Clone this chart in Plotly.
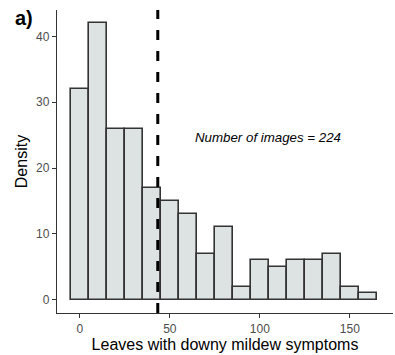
import plotly.graph_objects as go

bin_centers = [0, 10, 20, 30, 40, 50, 60, 70, 80, 90, 100, 110, 120, 130, 140, 150, 160]
counts = [32, 42, 26, 26, 17, 15, 13, 7, 11, 2, 6, 5, 6, 6, 7, 2, 1]
mean_value = 43.3
annotation_text = "Number of images = 224"
x_ticks = [0, 50, 100, 150]
y_ticks = [0, 10, 20, 30, 40]

fig = go.Figure()
fig.add_trace(go.Bar(
    x=bin_centers, y=counts, width=10,
    marker=dict(color="#dde3e3", line=dict(color="#333333", width=1.6)),
    showlegend=False,
))
fig.add_shape(type="line", x0=mean_value, x1=mean_value, y0=0, y1=1,
              xref="x", yref="paper",
              line=dict(color="black", width=3, dash="10px,11px"))
fig.add_annotation(x=104.5, y=24.7, text="<i>" + annotation_text + "</i>",
                   showarrow=False, font=dict(family="Liberation Sans, Arial", size=13.3, color="black"))
fig.add_annotation(x=-0.13, y=1.0, xref="paper", yref="paper", xanchor="left", yanchor="top",
                   yshift=5, text="<b>a)</b>", showarrow=False,
                   font=dict(size=20, color="black", family="Liberation Sans, Arial"))
fig.update_layout(
    width=395, height=355,
    margin=dict(l=57, r=2, t=10, b=42),
    plot_bgcolor="white", paper_bgcolor="white",
    font=dict(family="Liberation Sans, Arial", size=12, color="#4d4d4d"),
    bargap=0,
    xaxis=dict(range=[-12.7, 174], tickvals=x_ticks, ticks="outside", ticklen=4,
               tickcolor="#333333", showline=True, linecolor="#333333", linewidth=1.3,
               showgrid=False, zeroline=False,
               title=dict(text="Leaves with downy mildew symptoms", font=dict(size=16, color="black"), standoff=2)),
    yaxis=dict(range=[-2, 44], tickvals=y_ticks, ticks="outside", ticklen=4,
               tickcolor="#333333", showline=True, linecolor="#333333", linewidth=1.3,
               showgrid=False, zeroline=False,
               title=dict(text="Density", font=dict(size=16, color="black"), standoff=4)),
)
fig.write_html("out.html")
